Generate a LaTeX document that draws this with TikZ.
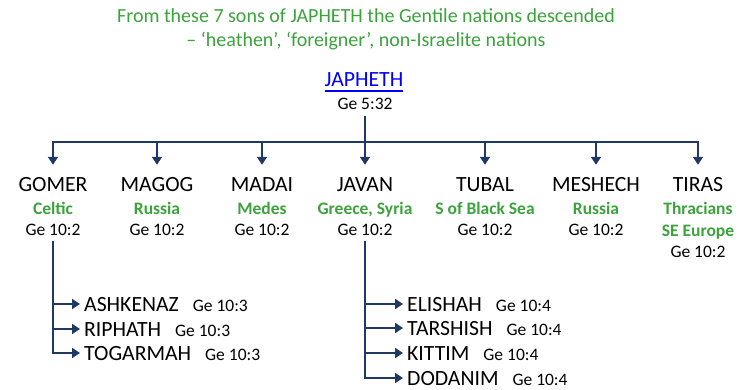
\documentclass[tikz,border=0pt]{standalone}
\usepackage{fontspec}
\setmainfont{Carlito}
\usetikzlibrary{arrows.meta}
\definecolor{navy}{RGB}{31,56,100}
\definecolor{grn}{RGB}{59,163,59}
\newcommand{\nm}{\fontsize{21.7}{26}\selectfont}
\newcommand{\rf}{\fontsize{17.5}{21}\selectfont}

\begin{document}
\begin{tikzpicture}[x=1pt,y=-1pt]
\useasboundingbox (0,0) rectangle (754,390);
\tikzstyle{every node}=[anchor=base,inner sep=2pt,text height=14pt,text depth=4pt];
\tikzstyle{son}=[font=\nm];
\tikzstyle{land}=[font=\rf\bfseries,text=grn,text height=12pt];
\tikzstyle{ref}=[font=\rf,text height=12pt];
\tikzstyle{kid}=[font=\nm,anchor=base west,inner xsep=4pt,text height=15pt,text depth=1pt];
\tikzstyle{line}=[draw=navy,line width=1.8pt];
\tikzstyle{arr}=[line,-{Triangle[width=10pt,length=8pt]}];
\tikzstyle{down}=[arr,shorten >=10pt];

% heading
\node[font=\fontsize{20}{24}\selectfont,text=grn] (h1) at (366,23) {From these 7 sons of JAPHETH the Gentile nations descended};
\node[font=\fontsize{20}{24}\selectfont,text=grn] (h2) at (366,47) {– ‘heathen’, ‘foreigner’, non-Israelite nations};

\node[son,text=blue,inner xsep=0pt] (jap) at (364,87) {JAPHETH};
\draw[blue,line width=1.6pt] ([yshift=-4pt]jap.base west) -- ([yshift=-4pt]jap.base east);
\node[ref] (jref) at (365,110) {Ge 5:32};

% the 7 sons
\node[son] (gomer) at (53,191) {GOMER};
\node[land] (gomerl) at (53,214) {Celtic};
\node[ref] (gomerr) at (53,235) {Ge 10:2};
\node[son] (magog) at (157,191) {MAGOG};
\node[land] (magogl) at (157,214) {Russia};
\node[ref] (magogr) at (157,235) {Ge 10:2};
\node[son] (madai) at (262,191) {MADAI};
\node[land] (madail) at (262,214) {Medes};
\node[ref] (madair) at (262,235) {Ge 10:2};
\node[son] (javan) at (365,191) {JAVAN};
\node[land] (javanl) at (365,214) {Greece, Syria};
\node[ref] (javanr) at (365,235) {Ge 10:2};
\node[son] (tubal) at (485,191) {TUBAL};
\node[land] (tuball) at (485,214) {S of Black Sea};
\node[ref] (tubalr) at (485,235) {Ge 10:2};
\node[son] (meshech) at (596,191) {MESHECH};
\node[land] (meshechl) at (596,214) {Russia};
\node[ref] (meshechr) at (596,235) {Ge 10:2};
\node[son] (tiras) at (698,191) {TIRAS};
\node[land] (tirasl) at (698,214) {Thracians};
\node[land] (tirasl2) at (698,236) {SE Europe};
\node[ref] (tirasr) at (698,257) {Ge 10:2};

\coordinate (bl) at (53,142);
\coordinate (br) at (698,142);
\draw[line,line cap=rect] (bl) -- (br);
\draw[line] (jref) -- (jref |- bl);
\foreach \s in {gomer,magog,madai,javan,tubal,meshech,tiras}
  \draw[down] (\s |- bl) -- (\s);

% sons of Gomer
\node[kid] (ashk) at (80,311) {ASHKENAZ\hspace{14pt}{\rf Ge 10:3}};
\node[kid] (riph) at (80,336) {RIPHATH\hspace{14pt}{\rf Ge 10:3}};
\node[kid] (toga) at (80,360) {TOGARMAH\hspace{14pt}{\rf Ge 10:3}};
\foreach \k in {ashk,riph,toga}
  \draw[arr] (gomerr) |- (\k);

% sons of Javan
\node[kid] (elis) at (403,311) {ELISHAH\hspace{14pt}{\rf Ge 10:4}};
\node[kid] (tars) at (403,335) {TARSHISH\hspace{14pt}{\rf Ge 10:4}};
\node[kid] (kitt) at (403,360) {KITTIM\hspace{14pt}{\rf Ge 10:4}};
\node[kid] (doda) at (403,385) {DODANIM\hspace{14pt}{\rf Ge 10:4}};
\foreach \k in {elis,tars,kitt,doda}
  \draw[arr] (javanr) |- (\k);
\end{tikzpicture}
\end{document}
